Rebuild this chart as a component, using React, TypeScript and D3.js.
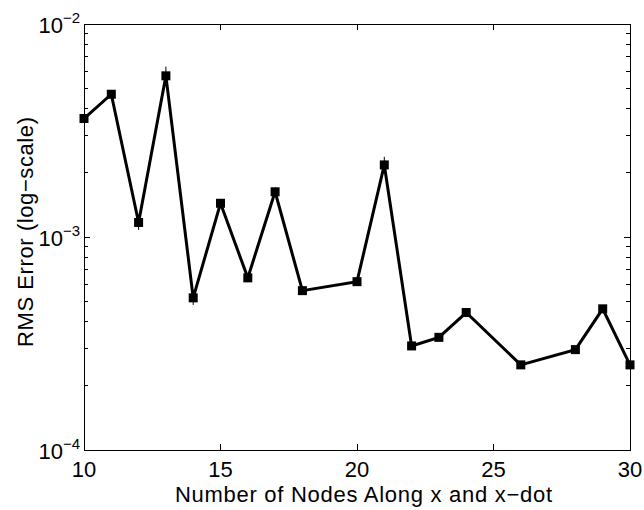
import React from "react";
import * as d3 from "d3";

// Grid resolution (nodes along x and x-dot) and resulting RMS error
const nodes = [10, 11, 12, 13, 14, 15, 16, 17, 18, 20, 21, 22, 23, 24, 26, 28, 29, 30];
const rmsError = [
  3.6e-3, 4.68e-3, 1.17e-3, 5.71e-3, 5.18e-4, 1.44e-3, 6.43e-4, 1.63e-3, 5.6e-4,
  6.17e-4, 2.18e-3, 3.08e-4, 3.38e-4, 4.42e-4, 2.51e-4, 2.96e-4, 4.6e-4, 2.51e-4,
];
// Half-width of the error bar for each run
const rmsSpread = [
  0.05e-3, 0.05e-3, 0.09e-3, 0.6e-3, 0.038e-3, 0.04e-3, 0.02e-3, 0.06e-3, 0.01e-3,
  0.01e-3, 0.2e-3, 0.005e-3, 0.005e-3, 0.005e-3, 0.003e-3, 0.003e-3, 0.005e-3, 0.003e-3,
];
const xTicks = [10, 15, 20, 25, 30];
const yDecades = [-4, -3, -2];

const W = 644;
const H = 510;
const left = 84;
const right = 630;
const top = 24;
const bottom = 450;
const font = "'Liberation Sans', Arial, Helvetica, sans-serif";

export default function App() {
  const x = d3.scaleLinear().domain([10, 30]).range([left, right]);
  const y = d3.scaleLog().domain([1e-4, 1e-2]).range([bottom, top]);

  const line = d3
    .line<number>()
    .x((_, i) => x(nodes[i]))
    .y((d) => y(d));

  const minorTicks: number[] = [];
  for (let e = -4; e < -2; e++) {
    for (let m = 2; m <= 9; m++) minorTicks.push(m * Math.pow(10, e));
  }

  const ms = 9;

  return (
    <svg
      width={W}
      height={H}
      style={{ position: "absolute", left: 0, top: 0, background: "#fff" }}
      fontFamily={font}
    >
      <rect x={0} y={0} width={W} height={H} fill="#fff" />
      {/* axes box */}
      <rect
        x={left}
        y={top}
        width={right - left}
        height={bottom - top}
        fill="none"
        stroke="#000"
        strokeWidth={1}
        shapeRendering="crispEdges"
      />
      {/* x ticks top and bottom */}
      {xTicks.map((t) => (
        <g key={"xt" + t} shapeRendering="crispEdges">
          <line x1={x(t)} x2={x(t)} y1={bottom} y2={bottom - 6} stroke="#000" />
          <line x1={x(t)} x2={x(t)} y1={top} y2={top + 6} stroke="#000" />
          <text x={x(t)} y={477} fontSize={22} textAnchor="middle" fill="#000">
            {t}
          </text>
        </g>
      ))}
      {/* y decade ticks and labels */}
      {yDecades.map((e) => {
        const v = Math.pow(10, e);
        return (
          <g key={"yd" + e} shapeRendering="crispEdges">
            <line x1={left} x2={left + 6} y1={y(v)} y2={y(v)} stroke="#000" />
            <line x1={right} x2={right - 6} y1={y(v)} y2={y(v)} stroke="#000" />
            <text x={63} y={y(v) + 9} fontSize={22} textAnchor="end" fill="#000">
              10
            </text>
            <text x={63} y={y(v) - 1} fontSize={15} textAnchor="start" fill="#000">
              {"\u2212" + Math.abs(e)}
            </text>
          </g>
        );
      })}
      {/* y minor ticks */}
      {minorTicks.map((v, i) => (
        <g key={"ym" + i} shapeRendering="crispEdges">
          <line x1={left} x2={left + 4} y1={y(v)} y2={y(v)} stroke="#000" />
          <line x1={right} x2={right - 4} y1={y(v)} y2={y(v)} stroke="#000" />
        </g>
      ))}
      {/* error bars */}
      {rmsError.map((v, i) => (
        <line
          key={"eb" + i}
          x1={x(nodes[i])}
          x2={x(nodes[i])}
          y1={y(v + rmsSpread[i])}
          y2={y(Math.max(v - rmsSpread[i], 1e-6))}
          stroke="#000"
          strokeWidth={1}
        />
      ))}
      {/* data line */}
      <path
        d={line(rmsError) || ""}
        fill="none"
        stroke="#000"
        strokeWidth={3}
        strokeLinejoin="miter"
      />
      {/* square markers */}
      {rmsError.map((v, i) => (
        <rect
          key={"mk" + i}
          x={x(nodes[i]) - ms / 2}
          y={y(v) - ms / 2}
          width={ms}
          height={ms}
          fill="#000"
        />
      ))}
      {/* axis titles */}
      <text
        x={363.5}
        y={502}
        fontSize={22}
        textAnchor="middle"
        textLength={377}
        lengthAdjust="spacing"
        fill="#000"
      >
        Number of Nodes Along x and x{"\u2212"}dot
      </text>
      <text
        transform={`translate(33, 232) rotate(-90)`}
        fontSize={22}
        textAnchor="middle"
        textLength={230}
        lengthAdjust="spacing"
        fill="#000"
      >
        RMS Error (log{"\u2212"}scale)
      </text>
    </svg>
  );
}
